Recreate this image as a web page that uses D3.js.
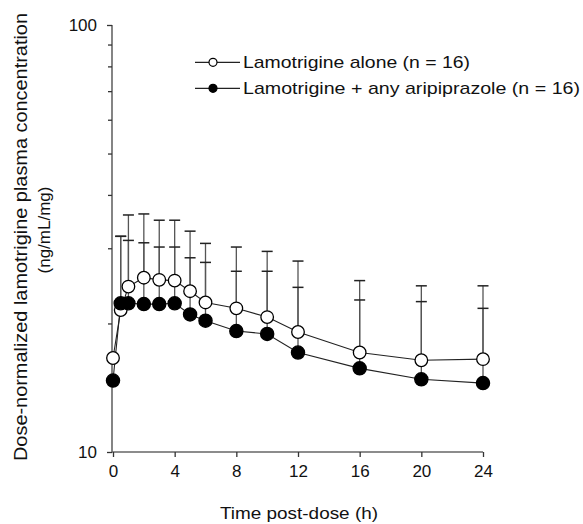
<!DOCTYPE html>
<html>
<head>
<meta charset="utf-8">
<script src="https://cdn.jsdelivr.net/npm/d3@7"></script>
<style>
  html, body { margin: 0; padding: 0; background: #fff; }
  svg { display: block; font-family: "Liberation Sans", Arial, Helvetica, sans-serif; }
</style>
</head>
<body>
<svg id="chart" width="583" height="524"></svg>
<script>
// ---- data ----
const times = [0, 0.5, 1, 2, 3, 4, 5, 6, 8, 10, 12, 16, 20, 24];
const aloneMean  = [16.6, 21.5, 24.4, 25.6, 25.3, 25.2, 23.8, 22.4, 21.7, 20.7, 19.1, 17.1, 16.4, 16.5];
const aloneUpper = [null, 32.0, 35.9, 36.1, 34.9, 34.9, 32.9, 30.8, 30.2, 29.5, 28.0, 25.2, 24.5, 24.5];
const comboMean  = [14.7, 22.3, 22.3, 22.2, 22.2, 22.3, 21.0, 20.3, 19.2, 18.9, 17.1, 15.7, 14.8, 14.5];
const comboUpper = [null, 32.0, 31.3, 30.9, 30.2, 30.2, 28.5, 27.8, 26.5, 26.5, 24.3, 22.7, 22.5, 21.7];
const xTicks = [0, 4, 8, 12, 16, 20, 24];
const yMajorTicks = [10, 100];
const yMinorTicks = [20, 30, 40, 50, 60, 70, 80, 90];
const legendLabels = ["Lamotrigine alone (n = 16)", "Lamotrigine + any aripiprazole (n = 16)"];
const xTitle = "Time post-dose (h)";
const yTitle1 = "Dose-normalized lamotrigine plasma concentration";
const yTitle2 = "(ng/mL/mg)";

const svg = d3.select("#chart");
const x = d3.scaleLinear().domain([0, 24]).range([113, 483]);
const y = d3.scaleLog().domain([10, 100]).range([452, 25]);

const series = [
  { mean: aloneMean, upper: aloneUpper, fill: "#fff" },
  { mean: comboMean, upper: comboUpper, fill: "#000" }
];

// ---- error bars ----
const eb = svg.append("g");
series.forEach(s => {
  times.forEach((t, i) => {
    if (s.upper[i] == null) return;
    eb.append("line")
      .attr("x1", x(t)).attr("x2", x(t))
      .attr("y1", y(s.mean[i])).attr("y2", y(s.upper[i]))
      .attr("stroke", "#555").attr("stroke-width", 1.3);
    eb.append("line")
      .attr("x1", x(t) - 5.5).attr("x2", x(t) + 5.5)
      .attr("y1", y(s.upper[i])).attr("y2", y(s.upper[i]))
      .attr("stroke", "#222").attr("stroke-width", 1.5);
  });
});

// ---- axes ----
const xAxis = d3.axisBottom(x).tickValues(xTicks).tickSize(5).tickPadding(6).tickSizeOuter(0);
const gx = svg.append("g").attr("transform", "translate(0,452)").call(xAxis);
gx.select(".domain").attr("stroke", "#666").attr("stroke-width", 1.6).attr("d", "M112,0H483");
gx.selectAll(".tick line").attr("stroke", "#333").attr("stroke-width", 1.3);
gx.selectAll(".tick text").attr("font-size", 17).attr("fill", "#111").attr("dy", "0.85em");

const yAxis = d3.axisLeft(y).tickValues(yMajorTicks).tickFormat(d3.format("d")).tickSize(5).tickPadding(10).tickSizeOuter(0);
const gy = svg.append("g").attr("transform", "translate(112,0)").call(yAxis);
gy.select(".domain").attr("stroke", "#666").attr("stroke-width", 1.6).attr("d", "M0,25V452");
gy.selectAll(".tick line").attr("stroke", "#333").attr("stroke-width", 1.3);
gy.selectAll(".tick text").attr("font-size", 17).attr("fill", "#111");

const yMinor = d3.axisLeft(y).tickValues(yMinorTicks).tickFormat("").tickSize(4).tickSizeOuter(0);
const gym = svg.append("g").attr("transform", "translate(112,0)").call(yMinor);
gym.select(".domain").remove();
gym.selectAll(".tick line").attr("stroke", "#333").attr("stroke-width", 1.3);

// ---- lines ----
const lineGen = d3.line().x(d => x(d[0])).y(d => y(d[1]));
series.forEach(s => {
  svg.append("path")
    .datum(times.map((t, i) => [t, s.mean[i]]))
    .attr("d", lineGen)
    .attr("fill", "none").attr("stroke", "#222").attr("stroke-width", 1.1);
});

// ---- points ----
series.forEach(s => {
  svg.append("g").selectAll("circle")
    .data(times.map((t, i) => [t, s.mean[i]]))
    .join("circle")
    .attr("cx", d => x(d[0])).attr("cy", d => y(d[1]))
    .attr("r", s.fill === "#fff" ? 6.3 : 6.6)
    .attr("fill", s.fill).attr("stroke", "#000").attr("stroke-width", 1.3);
});

// ---- legend ----
const legY = [62.3, 88.3];
const legLen = [227, 337];
legendLabels.forEach((lab, i) => {
  const g = svg.append("g");
  g.append("line").attr("x1", 195).attr("x2", 240).attr("y1", legY[i]).attr("y2", legY[i])
    .attr("stroke", "#222").attr("stroke-width", 1.2);
  g.append("circle").attr("cx", 213).attr("cy", legY[i]).attr("r", 4)
    .attr("fill", series[i].fill).attr("stroke", "#000").attr("stroke-width", 1.2);
  g.append("text").attr("x", 243).attr("y", legY[i] + 5.6)
    .attr("font-size", 17).attr("fill", "#111")
    .attr("textLength", legLen[i]).attr("lengthAdjust", "spacingAndGlyphs")
    .text(lab);
});

// ---- titles ----
svg.append("text").attr("x", 299).attr("y", 519).attr("text-anchor", "middle")
  .attr("font-size", 17).attr("fill", "#111")
  .attr("textLength", 158).attr("lengthAdjust", "spacingAndGlyphs")
  .text(xTitle);
svg.append("text").attr("transform", "translate(26.7,237) rotate(-90)").attr("text-anchor", "middle")
  .attr("font-size", 17.5).attr("fill", "#111")
  .attr("textLength", 448).attr("lengthAdjust", "spacingAndGlyphs")
  .text(yTitle1);
svg.append("text").attr("transform", "translate(49.5,230) rotate(-90)").attr("text-anchor", "middle")
  .attr("font-size", 17).attr("fill", "#111")
  .text(yTitle2);
</script>
</body>
</html>
